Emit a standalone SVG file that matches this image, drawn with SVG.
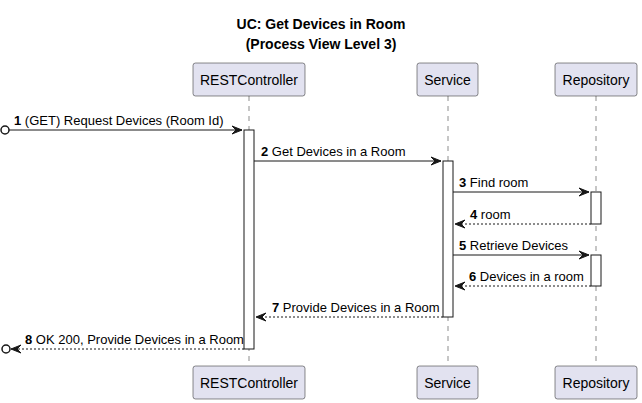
<svg xmlns="http://www.w3.org/2000/svg" width="642" height="403" viewBox="0 0 642 403">
<defs>
<style>
.title{font-family:"Liberation Sans",Arial,sans-serif;font-size:14px;font-weight:bold;fill:#000;text-anchor:middle}
.pbox{fill:#E2E2F0;stroke:#181818;stroke-width:0.5}
.pt{font-family:"Liberation Sans",Arial,sans-serif;font-size:14px;fill:#000;text-anchor:middle}
.life{stroke:#181818;stroke-width:0.5;stroke-dasharray:5,5;fill:none}
.act{fill:#FFFFFF;stroke:#181818;stroke-width:1}
.msg{stroke:#181818;stroke-width:1;fill:none}
.ret{stroke:#181818;stroke-width:1;fill:none;stroke-dasharray:2,2}
.ml{font-family:"Liberation Sans",Arial,sans-serif;font-size:13px;fill:#000}
.num{font-weight:bold}
.head{fill:#181818;stroke:#181818;stroke-width:1}
.circ{fill:none;stroke:#181818;stroke-width:1.5}
</style>
</defs>
<rect width="642" height="403" fill="#FFFFFF"/>
<text class="title" x="321" y="29">UC: Get Devices in Room</text>
<text class="title" x="321" y="49">(Process View Level 3)</text>

<g id="lifelines">
<line class="life" x1="249" y1="96" x2="249" y2="367"/>
<line class="life" x1="448" y1="96" x2="448" y2="367"/>
<line class="life" x1="596" y1="96" x2="596" y2="367"/>
</g>

<g id="RESTController">
<rect class="pbox" x="193" y="63" width="112" height="33" rx="2.5"/>
<text class="pt" x="249" y="85">RESTController</text>
<rect class="pbox" x="193" y="366" width="112" height="33" rx="2.5"/>
<text class="pt" x="249" y="388">RESTController</text>
</g>
<g id="Service">
<rect class="pbox" x="417" y="63" width="61" height="33" rx="2.5"/>
<text class="pt" x="447.5" y="85">Service</text>
<rect class="pbox" x="417" y="366" width="61" height="33" rx="2.5"/>
<text class="pt" x="447.5" y="388">Service</text>
</g>
<g id="Repository">
<rect class="pbox" x="555" y="63" width="82" height="33" rx="2.5"/>
<text class="pt" x="596" y="85">Repository</text>
<rect class="pbox" x="555" y="366" width="82" height="33" rx="2.5"/>
<text class="pt" x="596" y="388">Repository</text>
</g>

<g id="activations">
<rect class="act" x="244" y="130" width="10" height="219"/>
<rect class="act" x="443" y="161" width="10" height="156"/>
<rect class="act" x="591" y="192" width="10" height="32"/>
<rect class="act" x="591" y="255" width="10" height="31"/>
</g>

<g id="connectors">
<circle class="circ" cx="5" cy="130" r="4"/>
<line class="msg" x1="9" y1="130" x2="242" y2="130"/>
<polygon class="head" points="232,126 242,130 232,134 236,130"/>
<text class="ml" x="14" y="125"><tspan class="num">1</tspan> (GET) Request Devices (Room Id)</text>

<line class="msg" x1="254" y1="161" x2="441" y2="161"/>
<polygon class="head" points="431,157 441,161 431,165 435,161"/>
<text class="ml" x="261" y="156"><tspan class="num">2</tspan> Get Devices in a Room</text>

<line class="msg" x1="453" y1="192" x2="589" y2="192"/>
<polygon class="head" points="579,188 589,192 579,196 583,192"/>
<text class="ml" x="459" y="187"><tspan class="num">3</tspan> Find room</text>

<line class="ret" x1="591" y1="224" x2="455" y2="224"/>
<polygon class="head" points="465,220 455,224 465,228 461,224"/>
<text class="ml" x="470" y="219"><tspan class="num">4</tspan> room</text>

<line class="msg" x1="453" y1="255" x2="589" y2="255"/>
<polygon class="head" points="579,251 589,255 579,259 583,255"/>
<text class="ml" x="459" y="250"><tspan class="num">5</tspan> Retrieve Devices</text>

<line class="ret" x1="591" y1="286" x2="455" y2="286"/>
<polygon class="head" points="465,282 455,286 465,290 461,286"/>
<text class="ml" x="469" y="281"><tspan class="num">6</tspan> Devices in a room</text>

<line class="ret" x1="443" y1="317" x2="256" y2="317"/>
<polygon class="head" points="266,313 256,317 266,321 262,317"/>
<text class="ml" x="272" y="312"><tspan class="num">7</tspan> Provide Devices in a Room</text>

<line class="ret" x1="244" y1="349" x2="11" y2="349"/>
<polygon class="head" points="21,345 11,349 21,353 17,349"/>
<circle class="circ" cx="6" cy="349" r="4"/>
<text class="ml" x="25" y="344"><tspan class="num">8</tspan> OK 200, Provide Devices in a Room</text>
</g>
</svg>
